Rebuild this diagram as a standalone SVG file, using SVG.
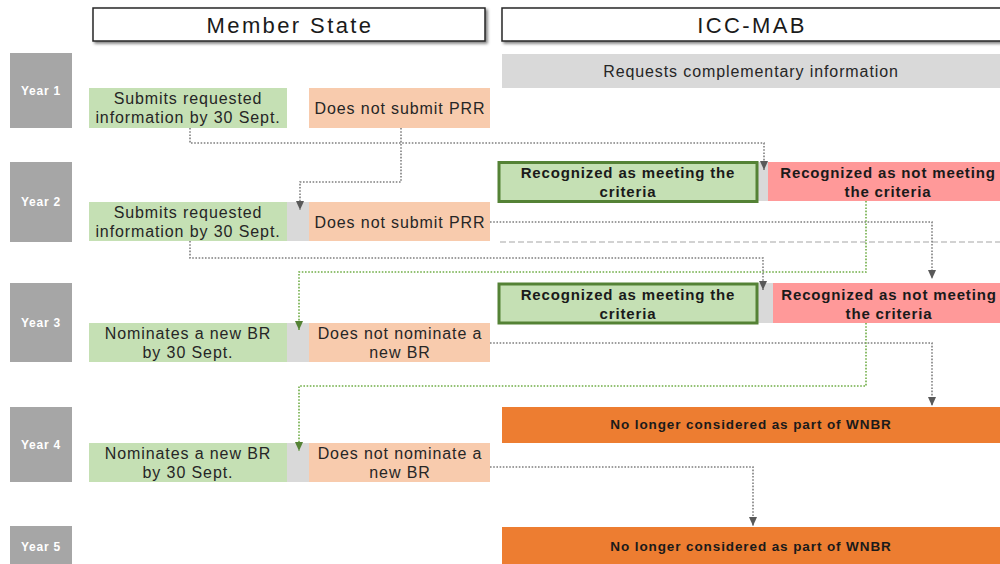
<svg xmlns="http://www.w3.org/2000/svg" width="1000" height="564" viewBox="0 0 1000 564">
<style>
  text { font-family: "Liberation Sans", Arial, sans-serif; fill: #262626; text-anchor: middle; }
  .hdr { font-size: 22px; letter-spacing: 2.4px; fill: #1a1a1a; }
  .yr { fill: #a6a6a6; }
  .yrt { font-size: 12px; font-weight: bold; letter-spacing: 0.8px; fill: #ffffff; }
  .ok { fill: #c5e0b4; }
  .no { fill: #f8cbad; }
  .gap { fill: #d9d9d9; }
  .bt { font-size: 16px; letter-spacing: 0.9px; }
  .rok { fill: #c5e0b4; stroke: #548235; stroke-width: 3; }
  .rno { fill: #ff9999; }
  .rt { font-size: 15px; font-weight: bold; letter-spacing: 0.85px; fill: #1a1a1a; }
  .out { fill: #ed7d31; }
  .ot { font-size: 13.5px; font-weight: bold; letter-spacing: 0.9px; fill: #1a1a1a; }
  .c { fill: none; stroke: #7f7f7f; stroke-width: 1.6; stroke-dasharray: 1.6 1.6; }
  .cg { fill: none; stroke: #70ad47; stroke-width: 1.6; stroke-dasharray: 1.6 1.6; }
  .cd { fill: none; stroke: #a6a6a6; stroke-width: 1.2; stroke-dasharray: 6 3; }
</style>
<defs>
  <marker id="ag" markerWidth="10" markerHeight="8" refX="9" refY="4" orient="auto" markerUnits="userSpaceOnUse">
    <path d="M0,0 L9,4 L0,8 Z" fill="#595959"/>
  </marker>
  <marker id="agr" markerWidth="10" markerHeight="8" refX="9" refY="4" orient="auto" markerUnits="userSpaceOnUse">
    <path d="M0,0 L9,4 L0,8 Z" fill="#548235"/>
  </marker>
  <filter id="sh" x="-5%" y="-20%" width="110%" height="150%">
    <feGaussianBlur in="SourceAlpha" stdDeviation="1.5"/>
    <feOffset dx="2" dy="2"/>
    <feComponentTransfer><feFuncA type="linear" slope="0.5"/></feComponentTransfer>
    <feMerge><feMergeNode/><feMergeNode in="SourceGraphic"/></feMerge>
  </filter>
</defs>
<rect x="0" y="0" width="1000" height="564" fill="#ffffff"/>

<g id="header-member-state">
  <rect x="93" y="8" width="392" height="33" fill="#ffffff" stroke="#262626" stroke-width="1.5" filter="url(#sh)"/>
  <text class="hdr" x="290" y="33">Member State</text>
</g>
<g id="header-icc-mab">
  <rect x="502" y="8" width="500" height="33" fill="#ffffff" stroke="#262626" stroke-width="1.5" filter="url(#sh)"/>
  <text class="hdr" x="752" y="33">ICC-MAB</text>
</g>

<g id="year1"><rect class="yr" x="10" y="53" width="62" height="75"/><text class="yrt" x="41" y="95">Year 1</text></g>
<g id="year2"><rect class="yr" x="10" y="162" width="62" height="80"/><text class="yrt" x="41" y="206">Year 2</text></g>
<g id="year3"><rect class="yr" x="10" y="283" width="62" height="79"/><text class="yrt" x="41" y="327">Year 3</text></g>
<g id="year4"><rect class="yr" x="10" y="407" width="62" height="75"/><text class="yrt" x="41" y="449">Year 4</text></g>
<g id="year5"><rect class="yr" x="10" y="526" width="62" height="40"/><text class="yrt" x="41" y="551">Year 5</text></g>

<g id="y1-submits"><rect class="ok" x="89" y="88" width="198" height="40"/><text class="bt" x="188" y="104">Submits requested</text><text class="bt" x="188" y="123">information by 30 Sept.</text></g>
<g id="y1-nosubmit"><rect class="no" x="309" y="88" width="181" height="40"/><text class="bt" x="400" y="114">Does not submit PRR</text></g>
<g id="y1-requests"><rect class="gap" x="502" y="54" width="498" height="34"/><text class="bt" x="751" y="77">Requests complementary information</text></g>

<g id="y2-left-strip"><rect class="gap" x="287" y="202" width="22" height="39"/></g>
<g id="y2-submits"><rect class="ok" x="89" y="202" width="198" height="39"/><text class="bt" x="188" y="218">Submits requested</text><text class="bt" x="188" y="237">information by 30 Sept.</text></g>
<g id="y2-nosubmit"><rect class="no" x="309" y="202" width="181" height="39"/><text class="bt" x="400" y="228">Does not submit PRR</text></g>
<g id="y2-gap"><rect class="gap" x="758" y="162" width="10" height="39"/></g>
<g id="y2-meets"><rect class="rok" x="499" y="162.5" width="258" height="39"/><text class="rt" x="628" y="178">Recognized as meeting the</text><text class="rt" x="628" y="197">criteria</text></g>
<g id="y2-notmeets"><rect class="rno" x="768" y="162" width="232" height="39"/><text class="rt" x="888" y="178">Recognized as not meeting</text><text class="rt" x="888" y="197">the criteria</text></g>

<g id="y3-left-strip"><rect class="gap" x="287" y="323" width="22" height="39"/></g>
<g id="y3-nominates"><rect class="ok" x="89" y="323" width="198" height="39"/><text class="bt" x="188" y="339">Nominates a new BR</text><text class="bt" x="188" y="358">by 30 Sept.</text></g>
<g id="y3-nonominate"><rect class="no" x="309" y="323" width="181" height="39"/><text class="bt" x="400" y="339">Does not nominate a</text><text class="bt" x="400" y="358">new BR</text></g>
<g id="y3-gap"><rect class="gap" x="758" y="283" width="15" height="40"/></g>
<g id="y3-meets"><rect class="rok" x="499" y="284" width="258" height="39"/><text class="rt" x="628" y="300">Recognized as meeting the</text><text class="rt" x="628" y="319">criteria</text></g>
<g id="y3-notmeets"><rect class="rno" x="773" y="283" width="227" height="40"/><text class="rt" x="889" y="300">Recognized as not meeting</text><text class="rt" x="889" y="319">the criteria</text></g>

<g id="y4-left-strip"><rect class="gap" x="287" y="443" width="22" height="39"/></g>
<g id="y4-nominates"><rect class="ok" x="89" y="443" width="198" height="39"/><text class="bt" x="188" y="459">Nominates a new BR</text><text class="bt" x="188" y="478">by 30 Sept.</text></g>
<g id="y4-nonominate"><rect class="no" x="309" y="443" width="181" height="39"/><text class="bt" x="400" y="459">Does not nominate a</text><text class="bt" x="400" y="478">new BR</text></g>
<g id="y4-removed"><rect class="out" x="502" y="407" width="498" height="36"/><text class="ot" x="751" y="429">No longer considered as part of WNBR</text></g>

<g id="y5-removed"><rect class="out" x="502" y="527" width="498" height="37"/><text class="ot" x="751" y="551">No longer considered as part of WNBR</text></g>

<g id="connectors">
  <path class="cd" d="M500,242 H1000"/>
  <path class="c" d="M190,128 V143 H764 V170" marker-end="url(#ag)"/>
  <path class="c" d="M401,128 V182 H300 V210" marker-end="url(#ag)"/>
  <path class="c" d="M490,222 H932 V279" marker-end="url(#ag)"/>
  <path class="c" d="M190,241 V258 H763 V290" marker-end="url(#ag)"/>
  <path class="cg" d="M866,201 V272 H299 V330" marker-end="url(#agr)"/>
  <path class="c" d="M490,343 H932 V406" marker-end="url(#ag)"/>
  <path class="cg" d="M866,323 V386 H299 V451" marker-end="url(#agr)"/>
  <path class="c" d="M490,467 H753 V526" marker-end="url(#ag)"/>
</g>
</svg>
